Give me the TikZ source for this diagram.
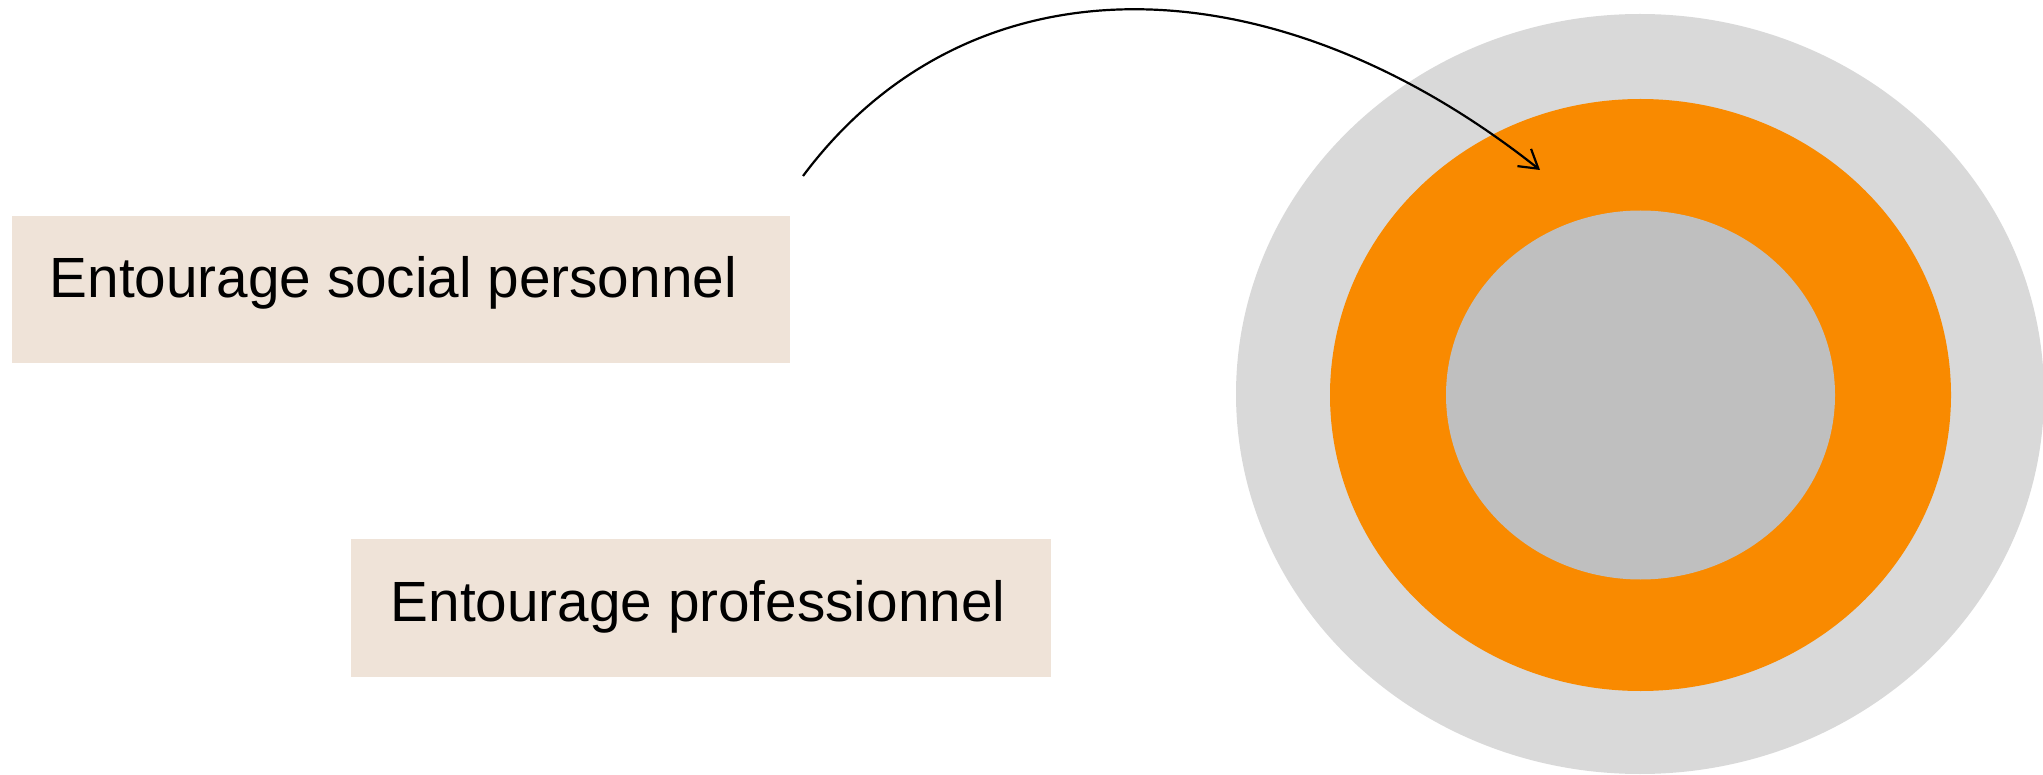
\documentclass[tikz,border=0pt]{standalone}
\usepackage{fontspec}
\setmainfont{Liberation Sans}
\usetikzlibrary{shapes.geometric,arrows.meta}
\definecolor{boxbg}{RGB}{239,227,216}
\definecolor{ringout}{RGB}{217,217,217}
\definecolor{ringmid}{RGB}{249,138,0}
\definecolor{ringin}{RGB}{191,191,191}
\tikzset{
  box/.style={rectangle, fill=boxbg, draw=none, inner sep=0pt, anchor=north west},
  lbl/.style={inner sep=0pt, anchor=base west, font=\fontsize{56.7}{68}\selectfont},
  ring/.style={ellipse, draw=none, inner sep=0pt},
  link/.style={line width=2.2pt, -{Straight Barb[length=18pt,width=22pt,line width=2.2pt]}}
}
\begin{document}
\begin{tikzpicture}[x=1pt,y=-1pt]
\useasboundingbox (0,0) rectangle (2043,775);
% rings
\node[ring, fill=ringout, minimum width=808pt, minimum height=760pt] (outer) at (1640,394) {};
\node[ring, fill=ringmid, minimum width=621pt, minimum height=592pt] (middle) at (1640.5,395) {};
\node[ring, fill=ringin, minimum width=389pt, minimum height=369pt] (inner) at (1640.5,395) {};
% boxes
\node[box, minimum width=778pt, minimum height=147pt] (b1) at (12,216) {};
\node[lbl] (t1) at (49.5,298) {Entourage social personnel};
\node[box, minimum width=700pt, minimum height=138pt] (b2) at (351,539) {};
\node[lbl] (t2) at (390.5,621) {Entourage professionnel};
% arrow
\coordinate (s) at (803,176);
\coordinate (e) at (1540,170);
\draw[link] (s) .. controls (972,-50) and (1275,-40) .. (e);
\end{tikzpicture}
\end{document}
